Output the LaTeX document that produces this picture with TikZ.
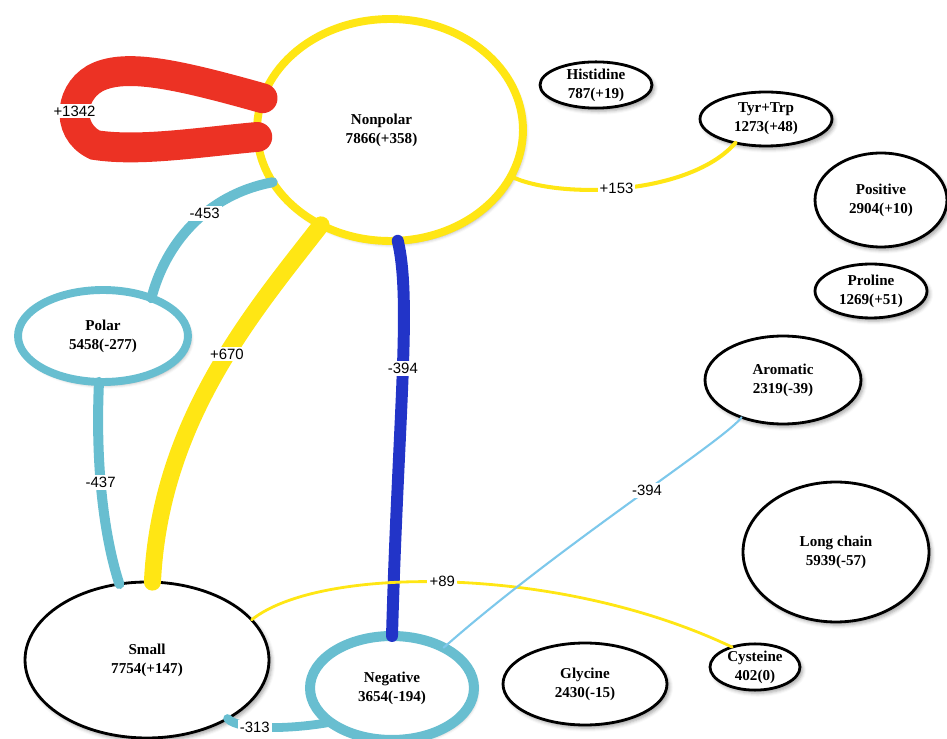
\documentclass[tikz,border=0pt]{standalone}
\usepackage{fontspec}
\setmainfont{Liberation Serif}
\newfontfamily\lblfont{Liberation Sans}
\usetikzlibrary{shapes.geometric,shadows.blur}
\definecolor{nyellow}{RGB}{255,230,20}
\definecolor{nred}{RGB}{236,50,36}
\definecolor{ncyan}{RGB}{104,190,208}
\definecolor{nblue}{RGB}{34,52,200}
\definecolor{nsky}{RGB}{125,200,235}
\begin{document}
\begin{tikzpicture}[x=0.02cm,y=-0.02cm,
  nd/.style={ellipse, draw=black, line width=1.6pt, fill=white, inner sep=0pt, outer sep=0pt,
    align=center, font=\fontsize{8.6}{10.8}\selectfont\bfseries,
    blur shadow={shadow xshift=1.5pt, shadow yshift=-1.8pt, shadow blur radius=2pt, shadow opacity=35}},
  el/.style={fill=white, inner sep=1.2pt, font=\lblfont\fontsize{8.5}{10}\selectfont},
  edge/.style={line cap=round}]
\useasboundingbox (0,0) rectangle (947,739);
\clip (0,0) rectangle (947,739);
% nodes
\node[nd, draw=nyellow, line width=4.5pt, minimum width=5.32cm, minimum height=4.44cm] (np) at (390,130) {Nonpolar\hspace*{0.34cm}\\7866(+358)\hspace*{0.34cm}};
\node[nd, minimum width=2.24cm, minimum height=0.72cm] (his) at (596,85) {Histidine\\787(+19)};
\node[nd, minimum width=2.64cm, minimum height=1.08cm] (tyr) at (766,119) {Tyr+Trp\\1273(+48)};
\node[nd, minimum width=2.64cm, minimum height=1.88cm] (pos) at (881,200) {Positive\\2904(+10)};
\node[nd, minimum width=2.24cm, minimum height=1.08cm] (pro) at (871,291) {Proline\\1269(+51)};
\node[nd, minimum width=3.12cm, minimum height=1.76cm] (aro) at (783,380) {Aromatic\\2319(-39)};
\node[nd, minimum width=3.72cm, minimum height=2.80cm] (lc) at (836,552) {Long chain\\5939(-57)};
\node[nd, minimum width=1.80cm, minimum height=0.76cm] (cys) at (755,667) {Cysteine\\402(0)};
\node[nd, minimum width=3.28cm, minimum height=1.64cm] (gly) at (585,684) {Glycine\\2430(-15)};
\node[nd, minimum width=4.88cm, minimum height=3.12cm] (sm) at (147,660) {Small\\7754(+147)};
\node[nd, draw=ncyan, line width=5.7pt, minimum width=3.28cm, minimum height=2.08cm] (neg) at (392,688) {Negative\\3654(-194)};
\node[nd, draw=ncyan, line width=4.5pt, minimum width=3.40cm, minimum height=1.84cm] (pol) at (103,336) {Polar\\5458(-277)};
% edges
\draw[edge, nred, line width=17pt] (np.166) .. controls (180,75) and (130,64) .. (100,76)
  .. controls (70,88) and (64,130) .. node[el, text=black, pos=0.52] {+1342} (95,145)
  .. controls (140,152) and (200,142) .. (np.183);
\draw[edge, ncyan, line width=5.7pt] (np.204) .. controls (205,195) and (165,245) .. node[el, text=black, pos=0.4] {-453} (pol.38);
\draw[edge, nyellow, line width=9.7pt] (np.234) .. controls (255,310) and (160,420) .. node[el, text=black, pos=0.44] {+670} (sm.86);
\draw[edge, ncyan, line width=5.7pt] (pol.265) .. controls (95,470) and (105,540) .. node[el, text=black, pos=0.42] {-437} (sm.110);
\draw[edge, nblue, line width=6.8pt] (np.274) .. controls (412,300) and (398,420) .. node[el, text=black, pos=0.47] {-394} (neg.90);
\draw[edge, nyellow, line width=2.3pt] (np.339) .. controls (560,200) and (690,195) .. node[el, text=black, pos=0.47] {+153} (tyr.218);
\draw[edge, nyellow, line width=1.6pt] (sm.21) .. controls (320,565) and (560,565) .. node[el, text=black, pos=0.48] {+89} (cys.139);
\draw[edge, nsky, line width=1.2pt] (aro.222) .. controls (725,440) and (560,545) .. node[el, text=black, pos=0.45] {-394} (neg.38);
\draw[edge, ncyan, line width=5pt] (sm.324) .. controls (240,732) and (300,728) .. node[el, text=black, pos=0.35] {-313} (neg.209);
\end{tikzpicture}
\end{document}
